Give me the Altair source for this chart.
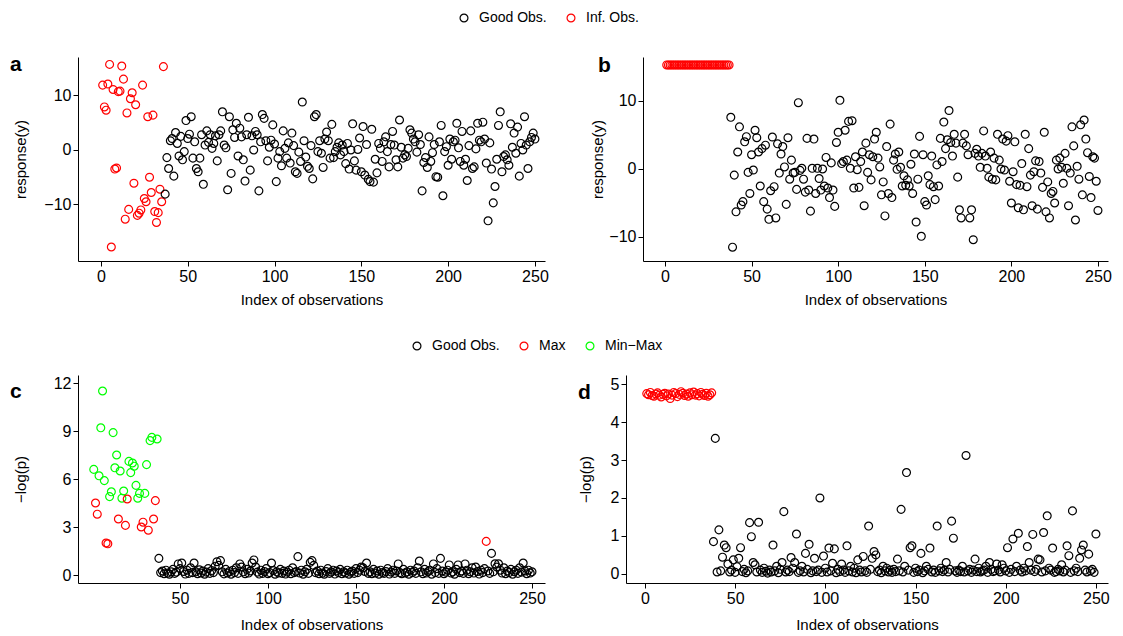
import altair as alt
import pandas as pd

FONT = "Liberation Sans"
MINUS_MAX = "Min\u2212Max"

# ---------------- Panel a: response(y), influential obs first ----------------
a_inf = [11.9, 7.9, 7.3, 12.1, 15.7, -17.8, 11.1, -3.5, -3.3, 10.7,
         10.8, 15.4, 13.0, -12.7, 6.8, -10.9, 9.4, 10.5, -6.1, 8.3,
         -12.0, -11.6, -11.0, 11.9, -8.9, -9.5, 6.1, -5.0, -7.8, 6.4,
         -11.3, -13.3, -11.5, -7.2, -9.5, 15.3]
a_good = [-8.1, -1.4, -3.4, 1.7, 2.1, -4.8, 3.2, 1.2, -1.1, 2.5,
          -1.8, -0.3, 5.4, 2.1, 2.9, 6.1, -1.5, 1.5, -3.4, -4.0,
          -1.5, 2.8, -6.3, 0.9, 3.5, 1.4, 2.8, 0.3, 1.2, 2.6,
          -2.0, 2.8, 3.5, 7.0, 0.9, 0.4, -7.3, 6.1, -4.3, 3.7,
          2.3, 4.9, -1.1, 4.0, 2.4, -1.8, -5.7, 2.8, 6.0, -3.7,
          2.6, 0.0, 3.4, 2.8, -7.5, 1.5, 6.5, 5.8, 1.7, -2.0,
          0.5, 1.8, 4.6, 1.1, -5.8, -1.5, -0.3, -2.9, 3.5, 0.3,
          -1.5, 1.3, -2.4, 3.1, 0.8, -4.0, -4.3, -0.4, -2.1, 8.8,
          1.7, -1.3, -3.0, -3.4, 0.8, -5.3, 6.1, 6.5, -0.3, 1.7,
          -0.6, -3.2, 2.0, 3.3, 1.7, -1.5, 4.7, -1.4, -0.3, 0.5,
          1.3, -0.9, 0.9, -0.3, -2.5, 1.2, -3.5, 0.0, 4.8, -2.0,
          -3.7, 0.1, 2.2, -4.0, 4.3, -4.6, 1.0, -5.4, -5.8, 3.8,
          -5.9, -1.7, -4.2, 1.2, 0.3, -2.1, 1.5, 2.4, -0.3, -3.1,
          1.0, 3.4, 0.9, -1.8, -3.1, 5.5, 0.5, -1.5, -0.9, -1.2,
          0.3, 3.7, 3.1, 2.0, 1.5, -0.4, 2.8, 1.0, -7.5, -2.3,
          -1.4, -3.2, 2.4, -2.1, -0.5, 1.0, -4.9, -5.0, 1.5, 4.5,
          -8.4, -0.3, 0.6, -2.8, 2.0, -1.7, 1.5, 1.8, 4.9, 0.4,
          -2.1, 3.4, -2.8, -1.7, -5.6, 0.8, 3.5, -3.4, -3.1, 0.2,
          4.9, 1.8, 1.5, 5.1, 2.0, -2.4, -13.0, 1.3, -3.5, -9.7,
          -6.7, -1.7, 4.5, 7.0, -4.0, -1.2, -0.9, -1.8, -2.8, 4.8,
          0.5, 3.1, -0.6, 4.2, -4.8, 1.2, 0.0, 6.1, 0.9, -3.4,
          1.5, 2.3, 3.1, 2.0]

# ---------------- Panel b ----------------
b_inf = [15.3, 15.3, 15.3, 15.3, 15.3, 15.3, 15.3, 15.3, 15.3, 15.3,
         15.3, 15.3, 15.3, 15.3, 15.3, 15.3, 15.3, 15.3, 15.3, 15.3,
         15.3, 15.3, 15.3, 15.3, 15.3, 15.3, 15.3, 15.3, 15.3, 15.3,
         15.3, 15.3, 15.3, 15.3, 15.3, 15.3, 15.3]
b_good = [7.6, -11.5, -0.9, -6.3, 2.5, 6.2, -5.3, -4.8, 4.0, 4.75,
          -0.5, -3.6, 2.1, -0.15, 5.7, 4.6, 2.5, -2.5, 3.0, -4.8,
          3.5, -5.9, -7.4, -3.2, 4.7, -2.6, -7.2, 3.7, -0.6, 2.2,
          3.3, 0.3, -5.2, 4.6, -1.5, 1.3, -0.6, -0.5, -3.0, 9.75,
          -0.2, 0.1, -1.5, -3.4, 4.5, -3.1, -6.2, 0.1, 4.4, -3.6,
          0.1, -1.4, -3.1, 0.0, -2.5, 1.7, -2.8, -4.2, 0.9, -3.1,
          -5.5, 3.9, 5.4, 10.1, 0.8, 1.1, 5.7, 1.3, 7.0, 0.1,
          7.1, -2.8, 1.8, -0.1, -2.7, 1.1, 2.5, -5.4, 3.8, -0.5,
          2.1, -1.6, 1.8, 4.4, 5.4, 1.6, 0.3, -3.8, -1.9, -6.9,
          3.3, -3.6, 6.6, -4.2, 1.3, 2.2, -0.05, 2.5, 0.25, -2.5,
          -1.0, -2.4, -1.6, -2.5, 0.7, -3.6, 2.2, -7.8, -1.5, 4.8,
          -9.9, 2.1, -4.8, -5.3, -1.0, -2.3, 1.9, -2.6, -4.5, 0.6,
          -2.5, 4.5, 1.1, 6.9, 3.0, 4.3, 8.6, 3.9, 1.9, 5.1,
          3.8, -1.2, -6.0, -7.2, 3.8, 5.1, 3.4, 2.1, -7.2, -6.0,
          -10.4, 2.3, 2.9, 1.9, 0.25, 2.3, 5.6, 1.9, 0.1, -1.2,
          2.5, -1.5, 1.6, -1.6, 5.1, 1.3, 0.0, 4.4, -0.15, 4.1,
          4.9, -1.8, -5.0, -0.4, 4.0, -2.3, -5.7, -2.4, 0.8, -6.0,
          5.1, -2.6, 3.0, -0.9, -5.4, -0.4, 1.2, -5.9, 1.1, -0.6,
          -2.7, 5.4, -6.3, -1.9, -7.2, -3.6, -3.3, -5.0, 1.3, 0.0,
          1.6, 0.25, -2.1, 2.3, 0.1, -5.4, -0.6, 6.2, 3.4, -7.5,
          0.4, -1.5, 6.5, -3.8, 7.2, 4.4, 2.4, -1.1, -4.2, 1.8,
          1.6, -1.8, -6.1]

# ---------------- Panel c: -log(p) ----------------
c_first = [6.6, 4.5, 3.8, 6.2, 9.2, 11.5, 5.9, 2.0, 1.95, 4.9,
           5.2, 8.9, 6.7, 7.5, 3.5, 6.5, 4.8, 5.25, 3.1, 4.75,
           7.1, 6.4, 7.0, 6.8, 5.6, 4.8, 5.1, 3.0, 3.3, 5.1,
           6.9, 2.8, 8.4, 8.6, 3.5, 4.65, 8.5]
c_first_grp = ["G", "R", "R", "G", "G", "G", "G", "R", "R", "G",
               "G", "G", "G", "G", "R", "G", "G", "G", "R", "R",
               "G", "G", "G", "G", "G", "G", "G", "R", "R", "G",
               "G", "R", "G", "G", "R", "R", "G"]
c_rest = [1.04, 0.15, 0.25, 0.08, 0.3, 0.12, 0.05, 0.2, 0.35, 0.1,
          0.18, 0.69, 0.4, 0.75, 0.22, 0.06, 0.3, 0.1, 0.45, 0.15,
          0.75, 0.2, 0.08, 0.33, 0.12, 0.25, 0.05, 0.18, 0.4, 0.1,
          0.28, 0.15, 0.55, 0.83, 0.6, 0.9, 0.2, 0.07, 0.35, 0.12,
          0.22, 0.05, 0.3, 0.15, 0.45, 0.1, 0.69, 0.5, 0.2, 0.08,
          0.35, 0.12, 0.25, 0.75, 0.94, 0.5, 0.18, 0.06, 0.3, 0.1,
          0.22, 0.4, 0.08, 0.15, 0.75, 0.28, 0.05, 0.2, 0.12, 0.35,
          0.1, 0.25, 0.06, 0.18, 0.3, 0.08, 0.45, 0.15, 0.22, 1.15,
          0.12, 0.3, 0.05, 0.2, 0.35, 0.1, 0.79, 0.9, 0.6, 0.15,
          0.25, 0.08, 0.3, 0.12, 0.05, 0.22, 0.4, 0.1, 0.18, 0.3,
          0.06, 0.25, 0.15, 0.35, 0.08, 0.2, 0.12, 0.3, 0.05, 0.18,
          0.25, 0.1, 0.4, 0.15, 0.3, 0.5, 0.45, 0.22, 0.75, 0.1,
          0.2, 0.08, 0.35, 0.12, 0.25, 0.05, 0.3, 0.15, 0.1, 0.22,
          0.4, 0.06, 0.18, 0.3, 0.1, 0.25, 0.69, 0.15, 0.08, 0.35,
          0.12, 0.2, 0.05, 0.3, 0.15, 0.25, 0.1, 0.45, 0.87, 0.2,
          0.08, 0.35, 0.12, 0.22, 0.3, 0.05, 0.69, 0.15, 0.4, 0.1,
          1.04, 0.25, 0.08, 0.18, 0.3, 0.63, 0.12, 0.2, 0.05, 0.35,
          0.63, 0.15, 0.25, 0.1, 0.69, 0.3, 0.08, 0.2, 0.45, 0.12,
          0.5, 0.22, 0.06, 0.3, 0.15, 0.4, 2.1, 0.25, 0.1, 1.35,
          0.2, 0.7, 0.5, 0.7, 0.3, 0.12, 0.45, 0.08, 0.25, 0.15,
          0.35, 0.05, 0.2, 0.3, 0.1, 0.45, 0.18, 0.75, 0.25, 0.08,
          0.3, 0.12, 0.2]
c_max_late = [224]   # late observation flagged by the Max test

# ---------------- Panel d ----------------
d_first = [4.75, 4.72, 4.78, 4.70, 4.68, 4.74, 4.77, 4.71, 4.66, 4.73,
           4.76, 4.69, 4.74, 4.62, 4.71, 4.78, 4.75, 4.67, 4.73, 4.80,
           4.76, 4.70, 4.74, 4.68, 4.77, 4.72, 4.79, 4.71, 4.75, 4.69,
           4.78, 4.73, 4.70, 4.76, 4.68, 4.72, 4.77]
d_rest = [0.85, 3.57, 0.05, 1.16, 0.08, 0.44, 0.76, 0.69, 0.26, 0.05,
          0.1, 0.37, 0.04, 0.19, 0.41, 0.69, 0.06, 0.12, 0.03, 0.08,
          1.35, 0.98, 0.3, 0.24, 0.05, 1.36, 0.1, 0.04, 0.15, 0.07,
          0.02, 0.1, 0.05, 0.76, 0.08, 0.2, 0.03, 0.12, 0.3, 1.64,
          0.05, 0.1, 0.06, 0.43, 0.15, 0.3, 1.05, 0.04, 0.08, 0.2,
          0.05, 0.54, 0.12, 0.78, 0.03, 0.08, 0.41, 0.06, 0.1, 2.0,
          0.04, 0.47, 0.15, 0.05, 0.68, 0.08, 0.28, 0.66, 0.03, 0.12,
          0.06, 0.26, 0.1, 0.04, 0.74, 0.08, 0.2, 0.05, 0.15, 0.03,
          0.37, 0.1, 0.05, 0.46, 0.08, 0.04, 1.26, 0.12, 0.41, 0.59,
          0.5, 0.06, 0.1, 0.03, 0.2, 0.08, 0.15, 0.05, 0.1, 0.04,
          0.12, 0.06, 0.39, 0.08, 1.7, 0.05, 0.2, 2.67, 0.1, 0.69,
          0.74, 0.04, 0.15, 0.06, 0.1, 0.54, 0.03, 0.08, 0.2, 0.12,
          0.68, 0.05, 0.1, 0.04, 1.26, 0.08, 0.15, 0.06, 0.1, 0.3,
          0.05, 0.12, 1.39, 0.94, 0.08, 0.04, 0.1, 0.06, 0.2, 0.05,
          3.12, 0.08, 0.12, 0.04, 0.1, 0.39, 0.06, 0.15, 0.05, 0.08,
          0.1, 0.2, 0.04, 0.3, 0.12, 0.06, 0.08, 0.26, 0.1, 0.05,
          0.24, 0.15, 0.08, 0.69, 0.04, 0.12, 0.92, 0.06, 0.2, 1.07,
          0.1, 0.05, 0.15, 0.08, 0.72, 0.3, 0.1, 1.04, 0.06, 0.12,
          0.39, 0.37, 0.05, 1.09, 0.08, 1.53, 0.15, 0.1, 0.68, 0.04,
          0.06, 0.12, 0.08, 0.24, 0.05, 0.1, 0.74, 0.48, 0.04, 1.66,
          0.08, 0.15, 0.06, 0.41, 0.63, 0.76, 0.1, 0.05, 0.52, 0.08,
          0.12, 0.04, 1.05]

# ---------------- tables ----------------
def table(first, first_grp, rest, rest_grp="Good Obs."):
    vals = list(first) + list(rest)
    grps = list(first_grp) + [rest_grp] * len(rest)
    return pd.DataFrame({"idx": list(range(1, len(vals) + 1)), "val": vals, "grp": grps})

df_a = table(a_inf, ["Inf. Obs."] * len(a_inf), a_good)
df_b = table(b_inf, ["Inf. Obs."] * len(b_inf), b_good)
df_c = table(c_first, ["Max" if g == "R" else MINUS_MAX for g in c_first_grp], c_rest)
df_c.loc[df_c["idx"].isin(c_max_late), "grp"] = "Max"
df_d = table(d_first, ["Max"] * len(d_first), d_rest)

dom1 = ["Good Obs.", "Inf. Obs."]
col1 = ["#000000", "#FF0000"]
dom2 = ["Good Obs.", "Max", MINUS_MAX]
col2 = ["#000000", "#FF0000", "#00FF00"]


def panel(df, dom, cols, xdom, ydom, xticks, yticks, ytitle, label, w, h,
          label_x, label_y, ytitle_x, xtitle_y, legend):
    color_kwargs = dict(scale=alt.Scale(domain=dom, range=cols), sort=dom)
    color_kwargs["legend"] = legend
    pts = alt.Chart(df).mark_point(
        shape="circle", filled=False, size=62, strokeWidth=1.2, opacity=1
    ).encode(
        x=alt.X("idx:Q", scale=alt.Scale(domain=xdom, nice=False, zero=False),
                axis=alt.Axis(values=xticks, title="Index of observations",
                              titleX=w / 2, titleY=xtitle_y, titleBaseline="middle")),
        y=alt.Y("val:Q", scale=alt.Scale(domain=ydom, nice=False, zero=False),
                axis=alt.Axis(values=yticks, title=ytitle, titleX=ytitle_x,
                              titleY=h / 2, titleAngle=270, titleBaseline="middle")),
        color=alt.Color("grp:N", **color_kwargs),
    )
    lab = alt.Chart(pd.DataFrame({"t": [label]})).mark_text(
        align="left", baseline="alphabetic", fontSize=21, fontWeight="bold",
        font=FONT, color="black"
    ).encode(x=alt.value(label_x), y=alt.value(label_y), text="t:N")
    return alt.layer(pts, lab).properties(width=w, height=h)


def top_legend(x, y):
    return alt.Legend(orient="none", legendX=x, legendY=y, direction="horizontal",
                      title=None, labelFontSize=14, labelFont=FONT, labelColor="black",
                      symbolSize=62, symbolStrokeWidth=1.2, symbolType="circle",
                      labelOffset=8, columnPadding=17)


pa = panel(df_a, dom1, col1, [-13.2, 255.8], [-20.37, 17.06], [0, 50, 100, 150, 200, 250],
           [-10, 0, 10], "response(y)", "a", 467, 204, -68, 14, -58, 38,
           top_legend(379, -46))
pb = panel(df_b, dom1, col1, [-12.7, 255.8], [-13.53, 16.47], [0, 50, 100, 150, 200, 250],
           [-10, 0, 10], "response(y)", "b", 465, 204, -45, 15, -46, 38, None)
pc = panel(df_c, dom2, col2, [-7.95, 257.4], [-0.5, 12.5], [50, 100, 150, 200, 250],
           [0, 3, 6, 9, 12], "\u2212log(p)", "c", 467, 208, -68, 23, -58, 41,
           top_legend(332, -36))
pd_ = panel(df_d, dom2, col2, [-10.5, 256.7], [-0.24, 5.24], [0, 50, 100, 150, 200, 250],
            [0, 1, 2, 3, 4, 5], "\u2212log(p)", "d", 482, 208, -48, 24, -41, 41, None)

row1 = alt.hconcat(pa, pb, spacing=98, bounds="flush").resolve_scale(color="independent")
row2 = alt.hconcat(pc, pd_, spacing=81, bounds="flush").resolve_scale(color="independent")

chart = alt.vconcat(row1, row2, spacing=32).resolve_scale(
    color="independent"
).properties(
    padding={"left": 10, "top": 11, "right": 5, "bottom": 5},
    background="white",
).configure_view(stroke=None).configure_axis(
    grid=False, domainColor="black", tickColor="black", labelColor="black",
    titleColor="black", labelFont=FONT, titleFont=FONT, labelFontSize=16,
    titleFontSize=15, titleFontWeight="normal", tickSize=5, labelPadding=2,
    domainWidth=1, tickWidth=1,
)

chart.save("out.html", embed_options={"renderer": "svg", "actions": False})
